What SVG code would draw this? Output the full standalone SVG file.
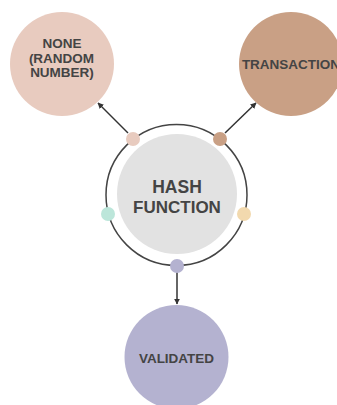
<svg xmlns="http://www.w3.org/2000/svg" width="337" height="405" viewBox="0 0 337 405">
<defs>
<marker id="ah" viewBox="0 0 10 10" refX="9" refY="5" markerWidth="6" markerHeight="6" orient="auto" markerUnits="userSpaceOnUse">
<path d="M0,0 L10,5 L0,10 z" fill="#333"/>
</marker>
<style>
.t{font-family:"Liberation Sans",Arial,sans-serif;font-weight:bold;fill:#444;text-anchor:middle}
.c{stroke:#333;stroke-width:1.5;fill:none}
</style>
</defs>
<rect width="337" height="405" fill="#fff"/>
<g id="connectors">
<line class="c" x1="128" y1="133" x2="98" y2="103" marker-end="url(#ah)"/>
<line class="c" x1="225" y1="133" x2="256" y2="103" marker-end="url(#ah)"/>
<line class="c" x1="177" y1="272" x2="177" y2="304" marker-end="url(#ah)"/>
</g>
<g id="hash">
<circle cx="176.5" cy="195" r="70.5" fill="none" stroke="#444" stroke-width="1.5"/>
<circle cx="177" cy="194" r="60" fill="#e2e2e2"/>
<text class="t" x="177" y="192.5" font-size="17.5">HASH</text>
<text class="t" x="177" y="212.5" font-size="17">FUNCTION</text>
<circle cx="133" cy="139" r="7" fill="#e8cbbf"/>
<circle cx="220" cy="139" r="7" fill="#c9a085"/>
<circle cx="108" cy="214" r="7" fill="#bce6da"/>
<circle cx="244" cy="214" r="7" fill="#f2d9ae"/>
<circle cx="177" cy="266" r="7" fill="#b4b2d0"/>
</g>
<g id="none">
<circle cx="62" cy="64" r="52" fill="#e8cbbf"/>
<text class="t" x="62" y="48" font-size="13.5">NONE</text>
<text class="t" x="61.5" y="62.5" font-size="13.5">(RANDOM</text>
<text class="t" x="62" y="77" font-size="13.5">NUMBER)</text>
</g>
<g id="transaction">
<circle cx="291" cy="64" r="52" fill="#c9a085"/>
<text class="t" x="291" y="68.5" font-size="13.5">TRANSACTION</text>
</g>
<g id="validated">
<circle cx="176.5" cy="357" r="52" fill="#b4b2d0"/>
<text class="t" x="176.5" y="362.5" font-size="13.5">VALIDATED</text>
</g>
</svg>
